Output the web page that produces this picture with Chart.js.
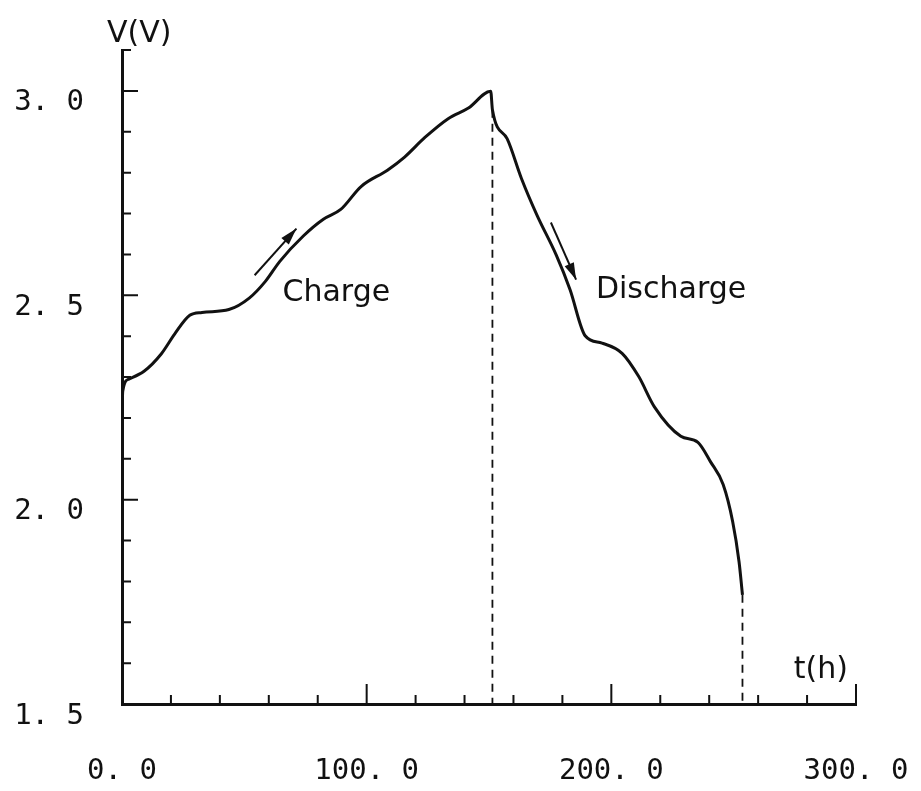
<!DOCTYPE html>
<html>
<head>
<meta charset="utf-8">
<script src="https://cdn.jsdelivr.net/npm/chart.js@4.4.0/dist/chart.umd.min.js"></script>
<style>
  html, body { margin: 0; padding: 0; background: #fff; }
  #wrap { width: 921px; height: 791px; position: relative; }
</style>
</head>
<body>
<div id="wrap"><canvas id="chart"></canvas></div>
<script>
// charge / discharge curve
const timeH = [0, 0.3, 2.8, 9.0, 16.1, 21.5, 27.7, 32.7, 43.7, 52.0, 58.6, 64.5, 74.1, 82.3, 89.4,
  97.7, 108.5, 115.5, 123.8, 133.3, 141.6, 150.7, 151.4, 157.4, 163.3, 169.6, 177.5, 183.1,
  189.3, 196.2, 204.4, 211.2, 217.6, 228.4, 235.4, 240.5, 245.7, 249.6, 252.2, 253.6];
const voltage = [2.21, 2.265, 2.295, 2.314, 2.357, 2.405, 2.451, 2.458, 2.465, 2.493, 2.534, 2.583,
  2.645, 2.686, 2.71, 2.766, 2.806, 2.838, 2.886, 2.932, 2.958, 2.999, 2.954, 2.883, 2.785, 2.696,
  2.598, 2.514, 2.401, 2.383, 2.358, 2.301, 2.227, 2.155, 2.14, 2.093, 2.037, 1.946, 1.848, 1.767];

// dashed drop lines at end of charge and end of discharge
const dropT = [151.4, 253.6];
const dropV = [2.954, 1.767];

// annotations (data units)
const noteText = ['Charge', 'Discharge'];
const noteT = [65.6, 193.7];
const noteV = [2.504, 2.513];
const arrowFromT = [54.2, 175.3];
const arrowFromV = [2.549, 2.678];
const arrowToT = [71.3, 185.6];
const arrowToV = [2.663, 2.538];

const xMin = 0, xMax = 300, xStep = 20;
const yMin = 1.5, yMax = 3.1, yStep = 0.1;

const INK = '#111';
const fmt = v => v.toFixed(1).replace('.', '. ');

const inwardTicks = {
  id: 'inwardTicks',
  afterDraw(chart) {
    const { ctx, scales: { x, y } } = chart;
    ctx.save();
    ctx.strokeStyle = INK;
    ctx.lineWidth = 2;
    ctx.beginPath();
    x.ticks.forEach(t => {
      if (t.value === xMin) return;
      const px = x.getPixelForValue(t.value);
      const len = t.value % 100 === 0 ? 20 : 9;
      ctx.moveTo(px, y.bottom);
      ctx.lineTo(px, y.bottom - len);
    });
    y.ticks.forEach(t => {
      const k = Math.round(t.value * 10);
      if (k === 15) return;
      const py = y.getPixelForValue(t.value);
      const len = k % 5 === 0 && k < 31 ? 16 : 9;
      ctx.moveTo(x.left, py);
      ctx.lineTo(x.left + len, py);
    });
    ctx.stroke();
    ctx.restore();
  }
};

const notes = {
  id: 'notes',
  afterDatasetsDraw(chart) {
    const { ctx, chartArea, scales: { x, y } } = chart;
    ctx.save();
    ctx.fillStyle = INK;
    ctx.strokeStyle = INK;
    ctx.font = '30px "DejaVu Sans"';
    ctx.textBaseline = 'middle';
    ctx.textAlign = 'left';
    noteText.forEach((s, i) => {
      ctx.fillText(s, x.getPixelForValue(noteT[i]), y.getPixelForValue(noteV[i]));
    });

    // arrows
    ctx.lineWidth = 2;
    arrowFromT.forEach((_, i) => {
      const x0 = x.getPixelForValue(arrowFromT[i]), y0 = y.getPixelForValue(arrowFromV[i]);
      const x1 = x.getPixelForValue(arrowToT[i]), y1 = y.getPixelForValue(arrowToV[i]);
      const a = Math.atan2(y1 - y0, x1 - x0);
      ctx.beginPath();
      ctx.moveTo(x0, y0);
      ctx.lineTo(x1, y1);
      ctx.stroke();
      const hl = 17, hw = 5;
      ctx.beginPath();
      ctx.moveTo(x1, y1);
      ctx.lineTo(x1 - hl * Math.cos(a) + hw * Math.sin(a), y1 - hl * Math.sin(a) - hw * Math.cos(a));
      ctx.lineTo(x1 - hl * Math.cos(a) - hw * Math.sin(a), y1 - hl * Math.sin(a) + hw * Math.cos(a));
      ctx.closePath();
      ctx.fill();
    });

    // axis names
    ctx.textBaseline = 'alphabetic';
    ctx.fillText('V(V)', chartArea.left - 15, chartArea.top - 8);
    ctx.textAlign = 'right';
    ctx.fillText('t(h)', chartArea.right - 8, chartArea.bottom - 26);
    ctx.restore();
  }
};

const curve = timeH.map((t, i) => ({ x: t, y: voltage[i] }));
const drops = dropT.map((t, i) => ({
  data: [{ x: t, y: dropV[i] }, { x: t, y: yMin }],
  borderColor: INK, borderWidth: 1.8, borderDash: [8, 6], pointRadius: 0
}));

const tickFont = { family: '"DejaVu Sans Mono", monospace', size: 29 };

new Chart(document.getElementById('chart'), {
  type: 'line',
  data: {
    datasets: [{
      data: curve, borderColor: INK, borderWidth: 3, pointRadius: 0,
      cubicInterpolationMode: 'monotone', fill: false
    }, ...drops]
  },
  options: {
    responsive: true, maintainAspectRatio: false, animation: false,
    layout: { padding: { top: 50, right: 65, bottom: 0, left: 0 } },
    plugins: { legend: { display: false }, tooltip: { enabled: false } },
    scales: {
      x: {
        type: 'linear', min: xMin, max: xMax,
        // fixed axis band; label overflow is handled by layout padding
        afterFit: s => { s.height = 87; s.paddingLeft = 0; s.paddingRight = 0; },
        grid: { drawOnChartArea: false, drawTicks: false },
        border: { display: true, color: INK, width: 3 },
        ticks: {
          stepSize: xStep, autoSkip: false, maxRotation: 0, padding: 50,
          color: INK, font: tickFont,
          callback: v => v % 100 === 0 ? fmt(v) : ''
        }
      },
      y: {
        min: yMin, max: yMax,
        afterFit: s => { s.width = 122; s.paddingTop = 0; s.paddingBottom = 0; },
        grid: { drawOnChartArea: false, drawTicks: false },
        border: { display: true, color: INK, width: 3 },
        ticks: {
          stepSize: yStep, autoSkip: false, padding: 38, labelOffset: 12,
          color: INK, font: tickFont,
          callback: v => {
            const k = Math.round(v * 10);
            return k % 5 === 0 && k <= 30 ? fmt(k / 10) : '';
          }
        }
      }
    }
  },
  plugins: [inwardTicks, notes]
});
</script>
</body>
</html>
